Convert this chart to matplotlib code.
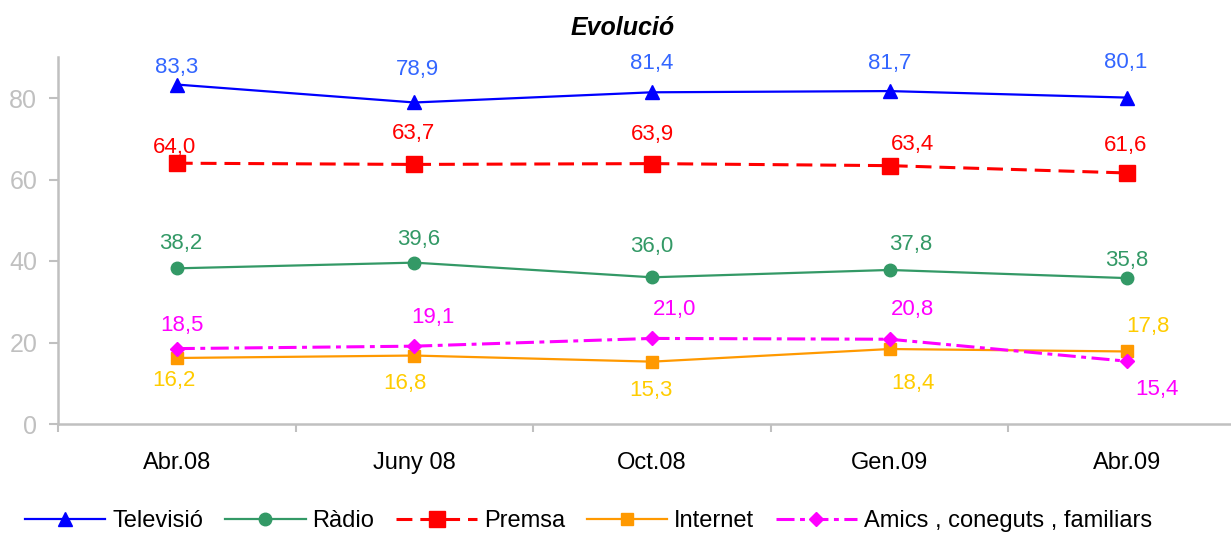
import matplotlib.pyplot as plt
from matplotlib.ticker import FixedLocator

plt.rcParams['font.family'] = ['Liberation Sans', 'DejaVu Sans']

periodes = ['Abr.08', 'Juny 08', 'Oct.08', 'Gen.09', 'Abr.09']
televisio = [83.3, 78.9, 81.4, 81.7, 80.1]
radio = [38.2, 39.6, 36.0, 37.8, 35.8]
premsa = [64.0, 63.7, 63.9, 63.4, 61.6]
internet = [16.2, 16.8, 15.3, 18.4, 17.8]
amics = [18.5, 19.1, 21.0, 20.8, 15.4]

fig = plt.figure(figsize=(12.31, 5.33), dpi=100)
ax = fig.add_axes([58 / 1231, 109 / 533, 1188 / 1231, 366.75 / 533])
x = range(len(periodes))

ax.plot(x, televisio, color='#0000FF', lw=1.6, marker='^', ms=10, label='Televisió')
ax.plot(x, radio, color='#339966', lw=1.6, marker='o', ms=9, label='Ràdio')
ax.plot(x, premsa, color='#FF0000', lw=2.2, ls=(0, (5.2, 2.6)), marker='s', ms=11.5, label='Premsa')
ax.plot(x, internet, color='#FF9900', lw=1.6, marker='s', ms=8.5, label='Internet')
ax.plot(x, amics, color='#FF00FF', lw=2.2, ls=(0, (5.9, 1.8, 1.6, 1.8)), marker='D', ms=7.6,
        label='Amics , coneguts , familiars')

# desplaçaments (dx, dy) en punts de cada etiqueta
def etiquetes(vals, color, offs):
    for i, (v, o) in enumerate(zip(vals, offs)):
        ax.annotate(f'{v:.1f}'.replace('.', ','), (i, v), xytext=o, textcoords='offset points',
                    ha='center', va='center', fontsize=16, color=color)

etiquetes(televisio, '#3366FF', [(0, 12), (2, 23.4), (0, 21), (0, 20), (-1, 25)])
etiquetes(premsa, '#FF0000', [(-2, 11.5), (-1, 22.5), (0, 21), (16.5, 15), (-1, 19.5)])
etiquetes(radio, '#339966', [(3, 18), (3, 16.5), (0, 22), (15, 18), (0, 13)])
etiquetes(amics, '#FF00FF', [(4, 17), (13, 21), (16.5, 21), (16.5, 21.5), (21.5, -20)])
etiquetes(internet, '#FFCC00', [(-2, -16), (-7, -20), (-1, -21), (16.5, -24.5), (15, 18)])

ax.set_xlim(-0.5, 4.5)
ax.set_ylim(0, 90)
ax.set_yticks([0, 20, 40, 60, 80])
ax.tick_params(axis='y', colors='#C0C0C0', labelsize=18, length=6.5, width=1.5, pad=8.5)
ax.set_xticks(list(x))
ax.set_xticklabels(periodes)
ax.tick_params(axis='x', which='major', length=0, labelsize=17, labelcolor='black', pad=20.5)
ax.xaxis.set_minor_locator(FixedLocator([-0.5, 0.5, 1.5, 2.5, 3.5, 4.5]))
ax.tick_params(axis='x', which='minor', length=6, width=1.5, color='#C0C0C0')
for s in ['top', 'right']:
    ax.spines[s].set_visible(False)
for s in ['left', 'bottom']:
    ax.spines[s].set_color('#C0C0C0')
    ax.spines[s].set_linewidth(1.8)

fig.text(0.5057, 1 - 28 / 533, 'Evolució', ha='center', va='center', fontsize=18,
         fontweight='bold', fontstyle='italic')

fig.legend(loc='center', bbox_to_anchor=(0.478, 1 - 521 / 533), ncol=5, frameon=False,
           fontsize=17, handlelength=3.4, columnspacing=0.93, handletextpad=0.3,
           borderaxespad=0, borderpad=0)

fig.savefig('out.png', dpi=100)
